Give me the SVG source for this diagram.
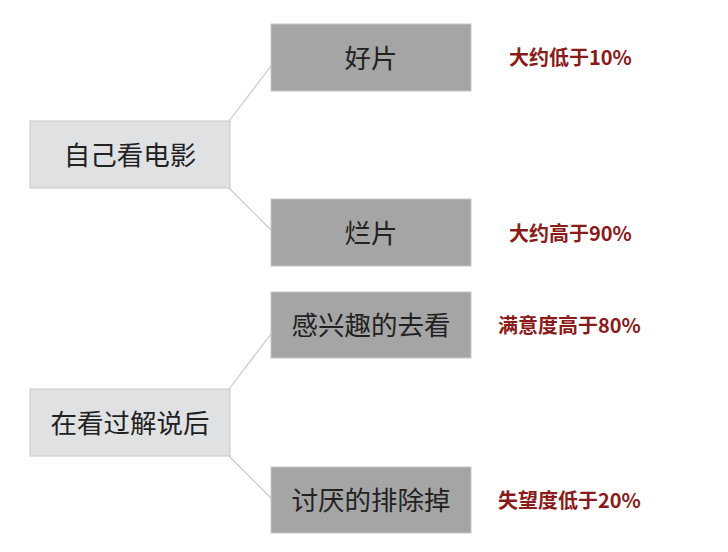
<svg xmlns="http://www.w3.org/2000/svg" width="728" height="552" viewBox="0 0 728 552">
<style>
.l{fill:#e0e1e3;stroke:#c8c8c8;stroke-width:1}
.d{fill:#a5a5a5;stroke:#c8c8c8;stroke-width:1}
.t{font-family:"Noto Sans CJK SC",sans-serif;font-size:26.5px;fill:#222;text-anchor:middle;dominant-baseline:central}
.r{font-family:"Noto Sans CJK SC",sans-serif;font-size:20px;font-weight:bold;fill:#8b1a1a;dominant-baseline:central}
.c{stroke:#c8c8c8;stroke-width:1.2;fill:none}
</style>
<rect width="728" height="552" fill="#fff"/>
<g id="connectors">
<line class="c" x1="229" y1="121" x2="271" y2="66"/>
<line class="c" x1="229" y1="188" x2="271" y2="230"/>
<line class="c" x1="229" y1="389" x2="271" y2="334"/>
<line class="c" x1="229" y1="456" x2="271" y2="498"/>
</g>
<g id="n1"><rect class="l" x="30" y="121" width="200" height="67"/><text class="t" x="130" y="153">自己看电影</text></g>
<g id="n2"><rect class="d" x="271" y="24" width="200" height="67"/><text class="t" x="371" y="56">好片</text></g>
<g id="n3"><rect class="d" x="271" y="199" width="200" height="67"/><text class="t" x="371" y="231">烂片</text></g>
<g id="n4"><rect class="l" x="30" y="389" width="200" height="67"/><text class="t" x="130" y="421">在看过解说后</text></g>
<g id="n5"><rect class="d" x="271" y="292" width="200" height="66"/><text class="t" x="371" y="323.5">感兴趣的去看</text></g>
<g id="n6"><rect class="d" x="271" y="467" width="200" height="66"/><text class="t" x="371" y="498.5">讨厌的排除掉</text></g>
<g id="labels">
<text class="r" x="509" y="56.5">大约低于10%</text>
<text class="r" x="509" y="232">大约高于90%</text>
<text class="r" x="498" y="324">满意度高于80%</text>
<text class="r" x="498" y="499">失望度低于20%</text>
</g>
</svg>
